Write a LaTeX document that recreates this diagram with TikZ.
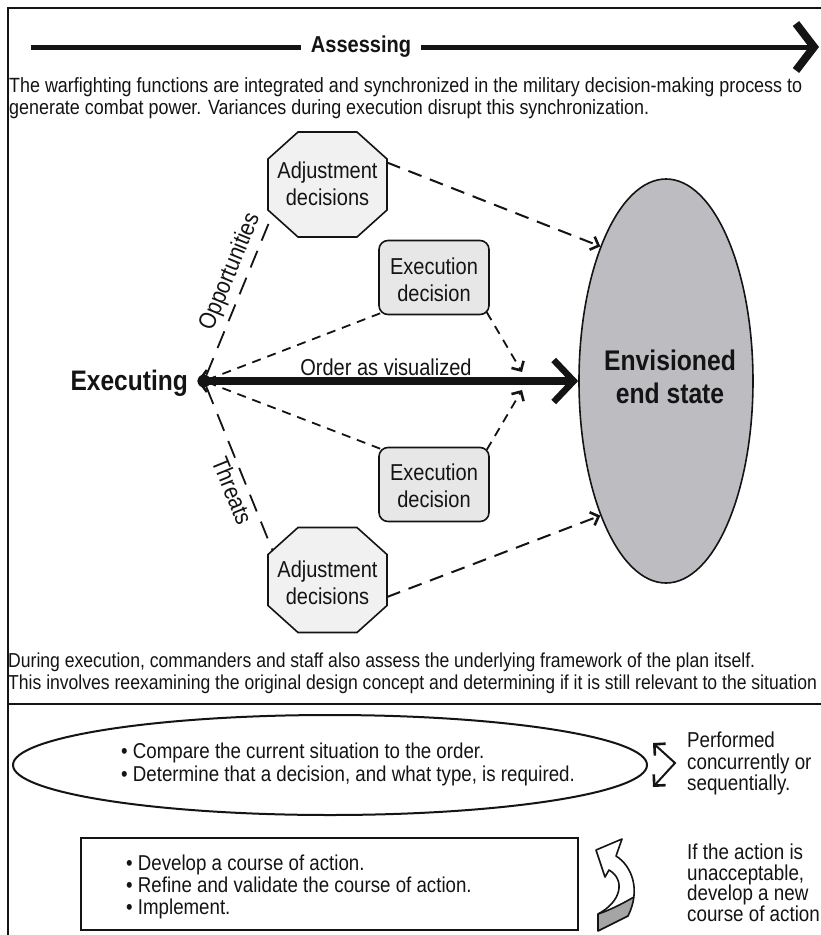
\documentclass[tikz,border=0pt]{standalone}
\usepackage{fontspec}
\setmainfont{Liberation Sans}[FakeStretch=0.87]
\usetikzlibrary{arrows.meta,calc,shapes.geometric}
\definecolor{ink}{RGB}{20,20,20}
\definecolor{endfill}{RGB}{189,189,193}
\definecolor{execfill}{RGB}{231,231,231}
\definecolor{octfill}{RGB}{241,241,241}
\definecolor{foldfill}{RGB}{165,165,165}

\begin{document}
\begin{tikzpicture}[x=1pt,y=-1pt,
  every node/.style={text=ink, inner sep=0pt},
  framerule/.style={draw=ink, line width=2.2},
  para/.style={anchor=base west, font=\fontsize{20.6}{24}\selectfont},
  para2/.style={anchor=base west, font=\fontsize{20.2}{24}\selectfont},
  note/.style={anchor=base west, font=\fontsize{21.5}{24}\selectfont},
  side/.style={anchor=base west, font=\fontsize{21.6}{24}\selectfont},
  boxlabel/.style={font=\fontsize{23}{27}\selectfont, align=center},
  octline/.style={draw=ink, line width=1.6, fill=octfill},
  execbox/.style={draw=ink, line width=1.6, fill=execfill, rounded corners=9,
    minimum width=110, minimum height=74},
  longdash/.style={draw=ink, line width=2, dash pattern=on 14pt off 9pt},
  shortdash/.style={draw=ink, line width=1.8, dash pattern=on 9pt off 7pt},
  sidedash/.style={draw=ink, line width=1.8, dash pattern=on 18pt off 11pt},
  openhead/.style={-{Straight Barb[length=7pt,width=14pt,line width=2.6pt]}},
  sidelabel/.style={font=\fontsize{24}{28}\selectfont},
  assessline/.style={draw=ink, line width=5},
  orderline/.style={draw=ink, line width=8,
    {Straight Barb[length=8pt,width=22pt,line width=2.5pt]}-{Straight Barb[length=20pt,width=42pt,line width=6.5pt]}},
  bracket/.style={draw=ink, line width=2,
    {Straight Barb[length=8pt,width=16pt,line width=2.6pt]}-{Straight Barb[length=8pt,width=16pt,line width=2.6pt]}},
  turnline/.style={draw=ink, line width=1.6, line join=round},
]
\useasboundingbox (0,0) rectangle (821,935);
\fill[white] (0,0) rectangle (821,935);

% outer frame and divider
\draw[framerule] (821,8) -- (8,8) -- (8,935);
\draw[framerule] (8,704) -- (821,704);

% assessing arrow
\node[font=\bfseries\fontsize{23}{27}\selectfont, inner xsep=10pt, inner ysep=3pt] (assess) at (361,47) {Assessing};
\coordinate (aStart) at (31,47);
\coordinate (aEnd) at (819,47);
\draw[assessline] (aStart) -- (assess.west);
\draw[assessline, -{Straight Barb[length=18pt,width=47pt,line width=8pt]}] (assess.east) -- (aEnd);

\node[para] (p1a) at (9,92.4) {The warfighting functions are integrated and synchronized in the military decision-making process to};
\node[para] (p1b) at (9,114.6) {generate combat power. Variances during execution disrupt this synchronization.};

% end state
\node[ellipse, draw=ink, line width=1.6, fill=endfill, minimum width=174, minimum height=404] (goal) at (666,381) {};
\node[font=\bfseries\fontsize{28.4}{33}\selectfont, align=center] (goaltext) at (670,376.4) {Envisioned\\end state};

% adjustment decisions (octagons)
\foreach \cx/\cy/\ty/\nm in {327.5/184.5/184/octA, 327.5/580/582.4/octB}{
  \draw[octline, shift={(\cx,\cy)}] (-29.5,-52.5) -- (29.5,-52.5) -- (59.5,-25.5) -- (59.5,25.5)
    -- (29.5,52.5) -- (-29.5,52.5) -- (-59.5,25.5) -- (-59.5,-25.5) -- cycle;
  \coordinate (\nm) at (\cx,\cy);
  \node[boxlabel] (\nm-text) at (\cx,\ty) {Adjustment\\decisions};
}

% execution decisions
\node[execbox] (execA) at (434,277.5) {};
\node[boxlabel] (execA-text) at (434,280) {Execution\\decision};
\node[execbox] (execB) at (434,484.5) {};
\node[boxlabel] (execB-text) at (434,486) {Execution\\decision};

% executing and the order
\node[circle, fill=ink, minimum size=13] (dot) at (204,381) {};
\node[anchor=base east, font=\bfseries\fontsize{28.2}{32}\selectfont] (exlabel) at (188,390) {Executing};
\draw[orderline] (dot.west) -- (goal.west);
\node[anchor=base, font=\fontsize{23}{27}\selectfont] (order) at (386,375.3) {Order as visualized};

\coordinate (tipA) at (522,372);
\coordinate (tipB) at (522,390);

% variance connectors
\draw[longdash, openhead] ($(octA)+(59.5,-22)$) -- (goal.116);
\draw[longdash, openhead] ($(octB)+(59.5,17)$) -- (goal.244);
\draw[shortdash, openhead] ($(execA.south east)+(-3,-3)$) -- (tipA);
\draw[shortdash, openhead] ($(execB.north east)+(-3,3)$) -- (tipB);
\draw[shortdash] ($(execA.south west)+(2,-2)$) -- (dot);
\draw[shortdash] ($(execB.north west)+(2,2)$) -- (dot);
\draw[sidedash] (dot) -- node[sloped, above=5pt, pos=0.6, sidelabel] (opp) {Opportunities} ($(octA)+(-55,29.6)$);
\draw[sidedash] (dot) -- node[sloped, below=5pt, pos=0.6, sidelabel] (thr) {Threats} ($(octB)+(-55,-29.6)$);

\node[para2] (p2a) at (8,667.3) {During execution, commanders and staff also assess the underlying framework of the plan itself.};
\node[para2] (p2b) at (8,689.3) {This involves reexamining the original design concept and determining if it is still relevant to the situation};

% lower panel: assessment steps
\node[ellipse, draw=ink, line width=2, minimum width=634, minimum height=100] (check) at (330,765) {};
\node[note] (c1) at (121,758.7) {• Compare the current situation to the order.};
\node[note] (c2) at (121,781.7) {• Determine that a decision, and what type, is required.};

\coordinate (bA) at (653,743);
\coordinate (bV) at (675,763);
\coordinate (bB) at (653,787);
\draw[bracket] (bA) -- (bV) -- (bB);
\node[side] (s1) at (687,747.5) {Performed};
\node[side] (s2) at (687,769) {concurrently or};
\node[side] (s3) at (687,790.5) {sequentially.};

\node[draw=ink, line width=2, minimum width=497, minimum height=92] (coa) at (329.5,884) {};
\node[note] (d1) at (126,870.7) {• Develop a course of action.};
\node[note] (d2) at (126,892.7) {• Refine and validate the course of action.};
\node[note] (d3) at (126,914.7) {• Implement.};

% return arrow
\path[fill=white] (596,850) -- (622,839) -- (616,856)
  .. controls (632,866) and (641,890) .. (628,916) -- (598,931) -- (598,914)
  .. controls (621,902) and (626,880) .. (609,870) -- (605,877) -- cycle;
\fill[foldfill] (598,914) .. controls (613,909) and (625,902) .. (634,897)
  .. controls (633,906) and (631,911) .. (628,916) -- (598,931) -- cycle;
\draw[turnline] (596,850) -- (622,839) -- (616,856)
  .. controls (632,866) and (641,890) .. (628,916) -- (598,931) -- (598,914)
  .. controls (621,902) and (626,880) .. (609,870) -- (605,877) -- cycle;
\draw[turnline] (598,914) .. controls (613,909) and (625,902) .. (634,897);

\node[side] (r1) at (687,859.5) {If the action is};
\node[side] (r2) at (687,880) {unacceptable,};
\node[side] (r3) at (687,900.5) {develop a new};
\node[side] (r4) at (687,921) {course of action};
\end{tikzpicture}
\end{document}
